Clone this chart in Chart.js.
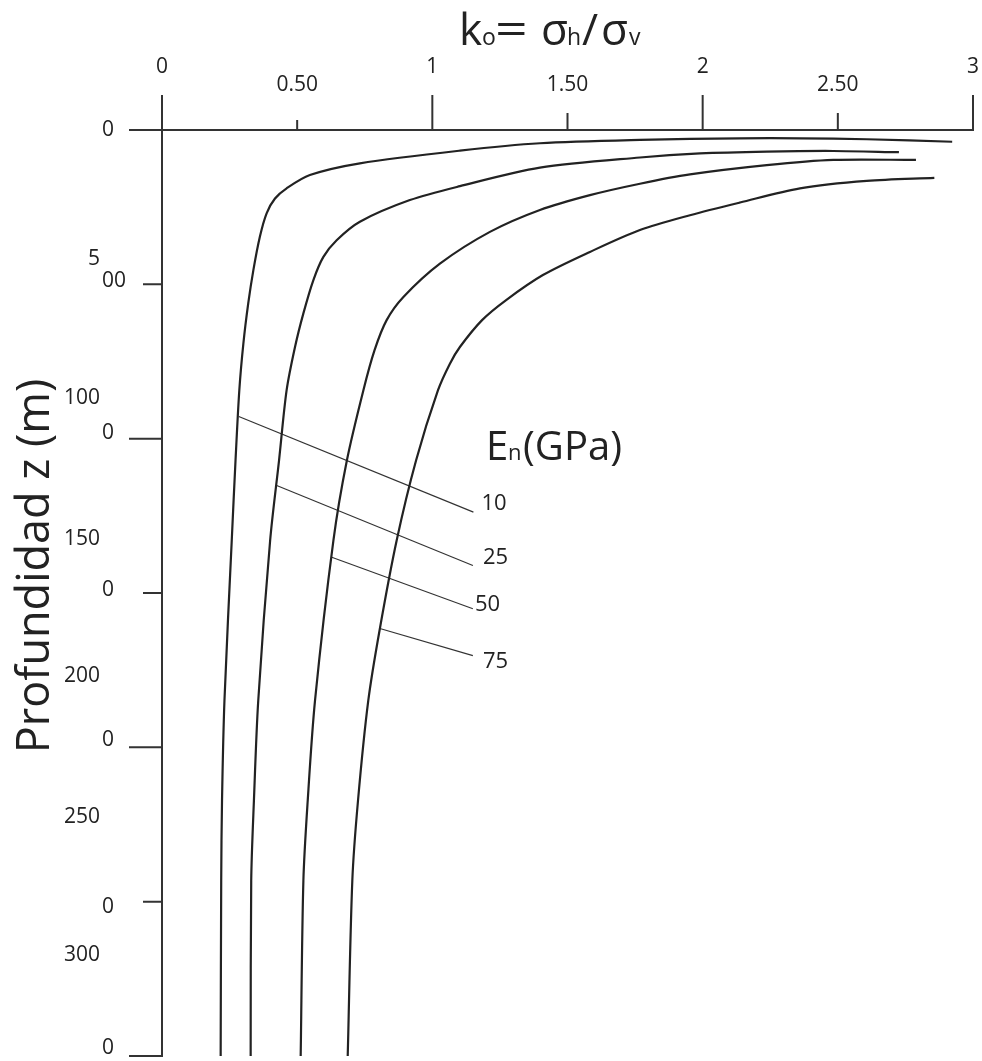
<!DOCTYPE html>
<html>
<head>
<meta charset="utf-8">
<title>ko - profundidad</title>
<script src="https://cdn.jsdelivr.net/npm/chart.js@4.4.1/dist/chart.umd.min.js"></script>
<style>
	html, body { margin: 0; padding: 0; background: #fff; }
	#wrap { width: 982px; height: 1061px; }
</style>
</head>
<body>
<div id="wrap"><canvas id="myChart" width="982" height="1061"></canvas></div>
<script>
// modulo E (GPa) de cada curva
var moduli = ["10", "25", "50", "75"];

// ko por profundidad z (m)
var k10 = [2.923, 2.607, 2.360, 2.138, 1.768, 1.398, 1.102, 0.732, 0.547, 0.461, 0.418, 0.387, 0.362, 0.338, 0.319, 0.301, 0.286, 0.272, 0.258, 0.231, 0.222, 0.219, 0.217];
var z10 = [38, 30, 27, 27, 32, 43, 67, 108, 146, 189, 222, 270, 346, 454, 562, 692, 843, 1070, 1330, 1849, 2173, 2432, 3000];

var k25 = [2.726, 2.483, 2.237, 1.990, 1.768, 1.398, 1.102, 0.917, 0.732, 0.646, 0.597, 0.560, 0.523, 0.492, 0.461, 0.433, 0.400, 0.356, 0.340, 0.330, 0.328];
var z25 = [72, 68, 70, 76, 89, 122, 182, 227, 297, 357, 411, 486, 594, 703, 843, 1070, 1330, 1849, 2173, 2432, 3000];

var k50 = [2.789, 2.483, 2.237, 1.953, 1.768, 1.583, 1.398, 1.213, 1.028, 0.893, 0.831, 0.786, 0.745, 0.684, 0.634, 0.566, 0.539, 0.523, 0.513];
var z50 = [97, 97, 114, 144, 174, 211, 259, 330, 433, 541, 616, 714, 843, 1070, 1330, 1849, 2173, 2432, 3000];

var k75 = [2.857, 2.607, 2.360, 2.138, 1.953, 1.768, 1.583, 1.409, 1.273, 1.184, 1.102, 1.065, 1.021, 0.940, 0.868, 0.806, 0.763, 0.725, 0.704, 0.687];
var z75 = [155, 165, 189, 235, 276, 324, 395, 470, 551, 616, 703, 757, 843, 1070, 1330, 1615, 1849, 2173, 2432, 3000];

// lineas de llamada: desde la curva hasta la etiqueta
var leaderFromK = [0.284, 0.422, 0.628, 0.806];
var leaderFromZ = [928, 1151, 1384, 1615];
var leaderToK = [1.152, 1.150, 1.150, 1.150];
var leaderToZ = [1238, 1411, 1551, 1703];

// ejes
var xTicks = [0, 0.5, 1, 1.5, 2, 2.5, 3];
var xTickLabels = ["0", "0.50", "1", "1.50", "2", "2.50", "3"];
var yTicks = [0, 500, 1000, 1500, 2000, 2500, 3000];
var yLabelTop = ["", "5", "100", "150", "200", "250", "300"];
var yLabelBottom = ["0", "00", "0", "0", "0", "0", "0"];

// estilo (no datos)
var FONT = "'Open Sans', 'DejaVu Sans', sans-serif";
var xTickLen = [35, 10, 35, 17, 35, 17, 35];
var yTickLen = [33, 19, 33, 19, 33, 19, 33];
var yTopNudge = [0, -25, -41, -54, -71, -85, -101];
var yBottomNudge = [0, -3, -6, -3, -7, 5, -8];
var labelDx = [8, 10, 2, 10];
var labelDy = [-8, -8, -4, 6];

function zip(ks, zs) {
	var pts = [];
	for (var i = 0; i < ks.length; i++) {
		pts.push({ x : ks[i], y : zs[i] });
	}
	return pts;
}

var curves = [ [k10, z10], [k25, z25], [k50, z50], [k75, z75] ];
var datasets = [];
for (var i = 0; i < curves.length; i++) {
	datasets.push({
		label : moduli[i] + " GPa",
		data : zip(curves[i][0], curves[i][1]),
		showLine : true,
		borderColor : "#222",
		borderWidth : 2.2,
		pointRadius : 0,
		tension : 0.3,
		clip : false
	});
}
for (var i = 0; i < moduli.length; i++) {
	datasets.push({
		label : "leader " + moduli[i],
		data : [ { x : leaderFromK[i], y : leaderFromZ[i] }, { x : leaderToK[i], y : leaderToZ[i] } ],
		showLine : true,
		borderColor : "#333",
		borderWidth : 1.2,
		pointRadius : 0,
		clip : false
	});
}

function drawRuns(ctx, runs, baseline) {
	for (var i = 0; i < runs.length; i++) {
		ctx.font = runs[i][2] + "px " + FONT;
		ctx.fillText(runs[i][0], runs[i][1], baseline);
	}
}

var ejes = {
	id : 'ejes',
	afterDraw : function(chart) {
		var ctx = chart.ctx;
		var xs = chart.scales.x, ys = chart.scales.y;
		var x0 = xs.getPixelForValue(0), x3 = xs.getPixelForValue(3);
		var y0 = ys.getPixelForValue(0), yEnd = ys.getPixelForValue(3000);
		ctx.save();
		ctx.strokeStyle = "#333";
		ctx.lineWidth = 2;
		ctx.beginPath();
		ctx.moveTo(x0 - 33, y0);
		ctx.lineTo(x3 + 1, y0);
		ctx.moveTo(x0, y0 - 35);
		ctx.lineTo(x0, yEnd + 1);
		for (var i = 1; i < xTicks.length; i++) {
			var px = xs.getPixelForValue(xTicks[i]);
			ctx.moveTo(px, y0);
			ctx.lineTo(px, y0 - xTickLen[i]);
		}
		for (var i = 1; i < yTicks.length; i++) {
			var py = ys.getPixelForValue(yTicks[i]);
			ctx.moveTo(x0, py);
			ctx.lineTo(x0 - yTickLen[i], py);
		}
		ctx.stroke();

		ctx.fillStyle = "#222";
		ctx.textBaseline = "middle";
		ctx.textAlign = "center";
		ctx.font = "21px " + FONT;
		for (var i = 0; i < xTicks.length; i++) {
			var px = xs.getPixelForValue(xTicks[i]);
			var ly = (xTicks[i] % 1 === 0) ? 67 : 85;
			ctx.fillText(xTickLabels[i], px, ly);
		}
		for (var i = 0; i < yTicks.length; i++) {
			var py = ys.getPixelForValue(yTicks[i]);
			ctx.textAlign = "right";
			ctx.fillText(yLabelTop[i], 100, py + yTopNudge[i]);
			ctx.textAlign = "left";
			ctx.fillText(yLabelBottom[i], 102, py + yBottomNudge[i]);
		}

		// etiquetas de las curvas
		ctx.font = "22px " + FONT;
		ctx.textAlign = "left";
		for (var i = 0; i < moduli.length; i++) {
			var ex = xs.getPixelForValue(leaderToK[i]);
			var ey = ys.getPixelForValue(leaderToZ[i]);
			ctx.fillText(moduli[i], ex + labelDx[i], ey + labelDy[i]);
		}

		// titulos
		ctx.textBaseline = "alphabetic";
		drawRuns(ctx, [ [ "k", 459, 44 ], [ "o", 482, 23 ] ], 45);
		ctx.save();
		ctx.translate(495, 45);
		ctx.scale(1.3, 1);
		ctx.font = "44px " + FONT;
		ctx.fillText("=", 0, 0);
		ctx.restore();
		drawRuns(ctx, [ [ "σ", 541, 44 ], [ "h", 567, 23 ], [ "/", 582, 44 ],
				[ "σ", 601, 44 ], [ "v", 629, 23 ] ], 45);
		drawRuns(ctx, [ [ "E", 486, 40 ], [ "n", 508, 22 ], [ "(GPa)", 523, 40 ] ], 460);

		ctx.translate(36, 566);
		ctx.rotate(-Math.PI / 2);
		ctx.textAlign = "center";
		ctx.textBaseline = "middle";
		ctx.font = "45px " + FONT;
		ctx.fillText("Profundidad z (m)", 0, 0);
		ctx.restore();
	}
};

var ctxD = document.getElementById("myChart").getContext('2d');
var myChart = new Chart(ctxD, {
	type : 'scatter',
	data : {
		datasets : datasets
	},
	options : {
		responsive : false,
		animation : false,
		devicePixelRatio : 1,
		layout : {
			padding : { left : 162, right : 9, top : 130, bottom : 5 }
		},
		scales : {
			x : { type : 'linear', min : 0, max : 3, display : false },
			y : { type : 'linear', min : 0, max : 3000, reverse : true, display : false }
		},
		plugins : {
			legend : { display : false },
			tooltip : { enabled : false }
		}
	},
	plugins : [ ejes ]
});
</script>
</body>
</html>
